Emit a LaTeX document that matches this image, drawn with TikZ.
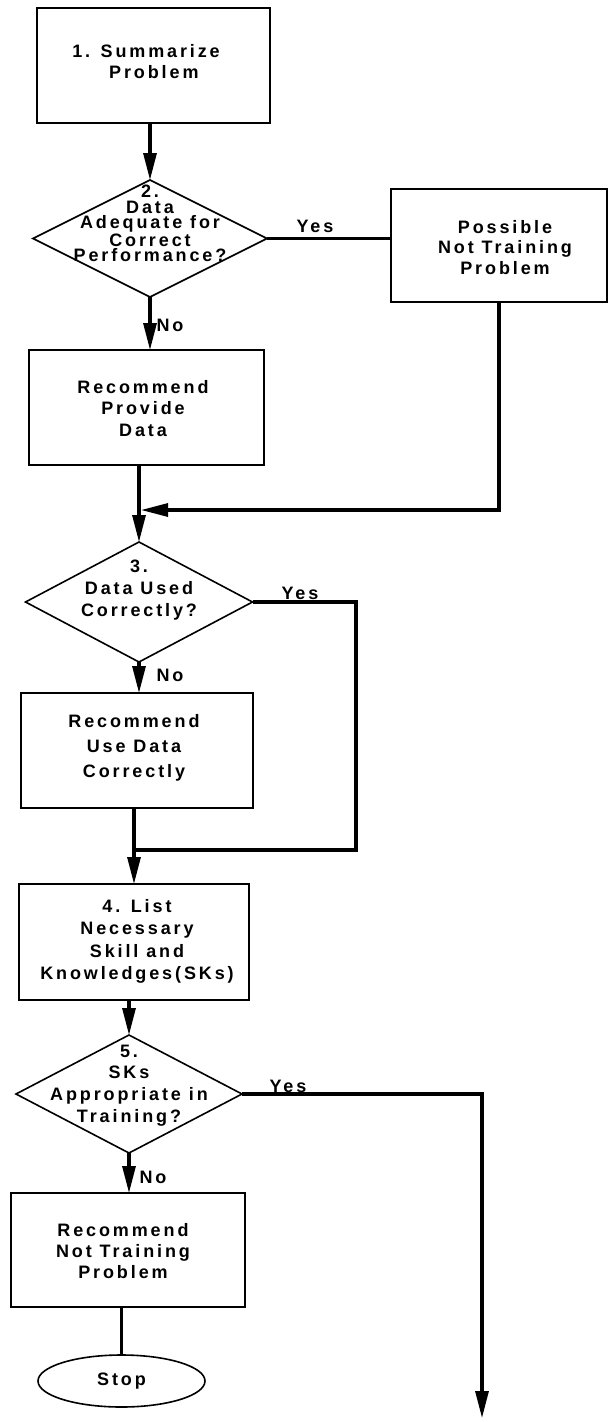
\documentclass[tikz,border=0pt]{standalone}
\usepackage{fontspec}
\setmainfont{Liberation Sans}[LetterSpace=16]
\usetikzlibrary{shapes.geometric,arrows.meta}
\begin{document}
\begin{tikzpicture}[x=1pt,y=-1pt,
  every node/.style={inner sep=0pt, outer sep=0pt},
  txt/.style={font=\fontsize{18}{#1}\selectfont\bfseries, align=center},
  txt/.default=21.5,
  box/.style={draw, line width=1.9pt, rectangle},
  dia/.style={draw, shape=diamond, line width=1.6pt},
  term/.style={draw, ellipse, line width=1.6pt},
  conn/.style={line width=3.1pt},
  arr/.style={conn, -{Triangle[length=27pt,width=13pt]}},
  lbl/.style={font=\fontsize{18}{18}\selectfont\bfseries}
]
\path[use as bounding box] (0,0) rectangle (608,1422);

% process boxes
\node[box, minimum width=233pt, minimum height=115pt] (b1) at (153.5,65.5) {};
\node[txt] at (146,61.5) {1. Summarize\\ \ \ Problem};

\node[box, minimum width=216pt, minimum height=113pt] (bp) at (499,245.5) {};
\node[txt=20.5] at (505,247.5) {Possible\\Not Training\\Problem};

\node[box, minimum width=235pt, minimum height=115pt] (b2) at (146.5,407.5) {};
\node[txt] at (143,408.5) {Recommend\\Provide\\Data};

\node[box, minimum width=232pt, minimum height=115pt] (b3) at (137,750.5) {};
\node[txt=25] at (134,748) {Recommend\\Use Data\\Correctly};

\node[box, minimum width=230pt, minimum height=116pt] (b4) at (134,942) {};
\node[txt=22.3] at (137,941.5) {4. List\\Necessary\\Skill and\\Knowledges(SKs)};

\node[box, minimum width=234pt, minimum height=114pt] (b5) at (128,1250) {};
\node[txt=21] at (123,1251) {Recommend\\Not Training\\Problem};

\node[term, minimum width=167pt, minimum height=52pt] (stop) at (121.5,1381) {};
\node[txt] at (121.5,1381) {Stop};

% decision diamonds
\node[dia, minimum width=234pt, minimum height=117pt] (d2) at (150,238.5) {};
\node[txt=15.6] at (150,223.5) {2.\\Data\\Adequate for\\Correct\\Performance?};

\node[dia, minimum width=227pt, minimum height=120pt] (d3) at (139,602) {};
\node[txt=22] at (139,590) {3.\\Data Used\\Correctly?};

\node[dia, minimum width=226pt, minimum height=118pt] (d5) at (129,1094) {};
\node[txt=21.7] at (129,1085.5) {5.\\SKs\\Appropriate in\\Training?};

% branch labels
\node[lbl] (y2) at (315,226) {Yes};
\node[lbl] (n2) at (170,325) {No};
\node[lbl] (y3) at (300,593) {Yes};
\node[lbl] (n3) at (170,675) {No};
\node[lbl] (y5) at (288,1086) {Yes};
\node[lbl] (n5) at (153,1177) {No};

% junctions and the open exit
\coordinate (m1) at (141,510);
\coordinate (r3) at (356,850);
\coordinate (j3) at (134,850);
\coordinate (o5) at (482,1418);

% main flow
\draw[arr] (b1.south -| d2.north) -- (d2.north);
\draw[arr] (d2.south) -- (d2.south |- b2.north);
\draw[arr] (b2.south -| d3.north) -- (d3.north);
\draw[arr] (d3.south) -- (d3.south |- b3.north);
\draw[arr] (b3.south -| b4.north) -- (b4.north);
\draw[arr] (b4.south -| d5.north) -- (d5.north);
\draw[arr] (d5.south) -- (d5.south |- b5.north);
\draw[conn] (b5.south -| stop.north) -- (stop.north);

% yes branches
\draw[conn] (d2.east) -- (d2.east -| bp.west);
\draw[arr] (bp.south) |- (m1);
\draw[conn] (d3.east) -| (r3) -- (j3);
\draw[arr] (d5.east) -| (o5);
\end{tikzpicture}
\end{document}
